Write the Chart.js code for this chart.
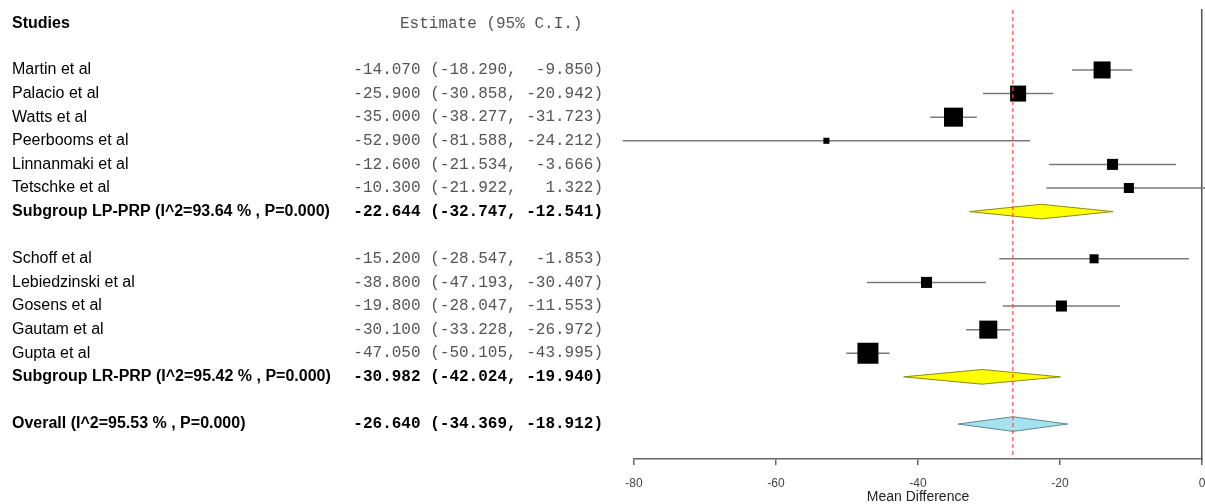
<!DOCTYPE html>
<html>
<head>
<meta charset="utf-8">
<script src="https://cdn.jsdelivr.net/npm/chart.js@4.4.1/dist/chart.umd.min.js"></script>
<style>
  html, body { margin: 0; padding: 0; background: #fff; }
</style>
</head>
<body>
<canvas id="forest" width="1205" height="504"></canvas>
<script>
// ---- data ----
const studies = ['Martin et al', 'Palacio et al', 'Watts et al', 'Peerbooms et al', 'Linnanmaki et al', 'Tetschke et al',
                 'Schoff et al', 'Lebiedzinski et al', 'Gosens et al', 'Gautam et al', 'Gupta et al'];
const studyGroup = ['LP-PRP', 'LP-PRP', 'LP-PRP', 'LP-PRP', 'LP-PRP', 'LP-PRP',
                    'LR-PRP', 'LR-PRP', 'LR-PRP', 'LR-PRP', 'LR-PRP'];
const estimate = [-14.070, -25.900, -35.000, -52.900, -12.600, -10.300, -15.200, -38.800, -19.800, -30.100, -47.050];
const lower    = [-18.290, -30.858, -38.277, -81.588, -21.534, -21.922, -28.547, -47.193, -28.047, -33.228, -50.105];
const upper    = [ -9.850, -20.942, -31.723, -24.212,  -3.666,   1.322,  -1.853, -30.407, -11.553, -26.972, -43.995];
// relative study weights
const relWeight = [18.1, 16.0, 22.6, 2.3, 7.6, 6.3, 5.1, 7.6, 7.6, 20.3, 27.6];

const groups   = ['LP-PRP', 'LR-PRP'];
const groupI2  = ['93.64', '95.42'];
const groupP   = ['0.000', '0.000'];
const groupEst = [-22.644, -30.982];
const groupLo  = [-32.747, -42.024];
const groupHi  = [-12.541, -19.940];

const overallI2 = '95.53';
const overallP = '0.000';
const overallEst = -26.640;
const overallLo = -34.369;
const overallHi = -18.912;

const xTicks = [-80, -60, -40, -20, 0];

// ---- row layout ----
const rows = [];
let r = 0;
groups.forEach((g, gi) => {
    studies.forEach((s, i) => {
        if (studyGroup[i] !== g) return;
        rows.push({ label: s, est: estimate[i], lo: lower[i], hi: upper[i], kind: 'study', idx: i, row: r });
        r++;
    });
    rows.push({ label: `Subgroup ${g} (I^2=${groupI2[gi]} % , P=${groupP[gi]})`,
                est: groupEst[gi], lo: groupLo[gi], hi: groupHi[gi], kind: 'sub', row: r });
    r += 2;
});
rows.push({ label: `Overall (I^2=${overallI2} % , P=${overallP})`,
            est: overallEst, lo: overallLo, hi: overallHi, kind: 'overall', row: r });

const Y_MIN = -2.54, Y_MAX = 16.48, HEADER_ROW = -1.95, DIAMOND_H = 0.31;

const fmt = v => v.toFixed(3).padStart(7);
const boxSide = w => 4 * Math.sqrt(w);

// ---- datasets ----
const datasets = [];

rows.filter(d => d.kind === 'study').forEach(d => {
    datasets.push({
        type: 'line',
        data: [{ x: d.lo, y: d.row }, { x: d.hi, y: d.row }],
        borderColor: '#7a7a7a',
        borderWidth: 1.5,
        pointRadius: 0,
        clip: false,
        order: 3
    });
});

const studyRows = rows.filter(d => d.kind === 'study');
datasets.push({
    type: 'scatter',
    data: studyRows.map(d => ({ x: d.est, y: d.row })),
    pointStyle: 'rect',
    pointRadius: studyRows.map(d => boxSide(relWeight[d.idx]) / Math.SQRT2),
    pointHoverRadius: studyRows.map(d => boxSide(relWeight[d.idx]) / Math.SQRT2),
    backgroundColor: '#000',
    borderColor: '#000',
    borderWidth: 0,
    clip: false,
    order: 1
});

rows.filter(d => d.kind !== 'study').forEach(d => {
    const isOverall = d.kind === 'overall';
    datasets.push({
        type: 'line',
        data: [
            { x: d.lo, y: d.row },
            { x: d.est, y: d.row - DIAMOND_H },
            { x: d.hi, y: d.row },
            { x: d.est, y: d.row + DIAMOND_H },
            { x: d.lo, y: d.row }
        ],
        fill: 'shape',
        backgroundColor: isOverall ? '#a3e2ee' : '#ffff00',
        borderColor: isOverall ? '#5e8a94' : '#8a8a1a',
        borderWidth: 1,
        pointRadius: 0,
        tension: 0,
        clip: false,
        order: 2
    });
});

// dashed line at the overall estimate
datasets.push({
    type: 'line',
    data: [{ x: overallEst, y: Y_MIN }, { x: overallEst, y: Y_MAX }],
    borderColor: '#ff4a4a',
    borderWidth: 1.2,
    borderDash: [4, 3],
    pointRadius: 0,
    order: 0
});

// left-hand table text
const tablePlugin = {
    id: 'forestTable',
    afterDraw(chart) {
        const ctx = chart.ctx;
        const y = chart.scales.y;
        ctx.save();
        ctx.textBaseline = 'middle';

        ctx.textAlign = 'left';
        ctx.fillStyle = '#000';
        ctx.font = 'bold 16px "Liberation Sans", Arial, sans-serif';
        ctx.fillText('Studies', 12, y.getPixelForValue(HEADER_ROW));
        ctx.fillStyle = '#555';
        ctx.font = '16px "Liberation Mono", monospace';
        ctx.fillText('Estimate (95% C.I.)', 400, y.getPixelForValue(HEADER_ROW));

        rows.forEach(d => {
            const py = y.getPixelForValue(d.row);
            const bold = d.kind !== 'study';
            ctx.textAlign = 'left';
            ctx.fillStyle = '#000';
            ctx.font = (bold ? 'bold ' : '') + '16px "Liberation Sans", Arial, sans-serif';
            ctx.fillText(d.label, 12, py);

            ctx.textAlign = 'right';
            ctx.fillStyle = bold ? '#000' : '#555';
            ctx.font = (bold ? 'bold ' : '') + '16px "Liberation Mono", monospace';
            ctx.fillText(`${fmt(d.est)} (${fmt(d.lo)}, ${fmt(d.hi)})`, 603, py);
        });
        ctx.restore();
    }
};

new Chart(document.getElementById('forest'), {
    type: 'scatter',
    data: { datasets },
    options: {
        responsive: false,
        animation: false,
        layout: { autoPadding: false, padding: { left: 634, right: 3, top: 10, bottom: 0 } },
        plugins: {
            legend: { display: false },
            tooltip: { enabled: false }
        },
        scales: {
            x: {
                type: 'linear',
                position: 'bottom',
                min: -80,
                max: 0,
                afterBuildTicks: s => { s.ticks = xTicks.map(v => ({ value: v })); },
                afterFit: s => { s.height = 45; s.paddingLeft = 0; s.paddingRight = 0; },
                ticks: {
                    color: '#444',
                    padding: 11,
                    font: { family: '"Liberation Sans", Arial, sans-serif', size: 12 }
                },
                grid: { drawOnChartArea: false, drawTicks: true, tickLength: 6, color: '#666', lineWidth: 1.5 },
                border: { display: true, color: '#666', width: 1.5 },
                title: {
                    display: true,
                    text: 'Mean Difference',
                    color: '#222',
                    padding: 0,
                    font: { family: '"Liberation Sans", Arial, sans-serif', size: 14, lineHeight: 1 }
                }
            },
            y: {
                type: 'linear',
                position: 'right',
                reverse: true,
                min: Y_MIN,
                max: Y_MAX,
                afterFit: s => { s.width = 0; s.paddingTop = 0; s.paddingBottom = 0; },
                ticks: { display: false },
                grid: { display: false, drawTicks: false },
                border: { display: true, color: '#555', width: 1.5 }
            }
        }
    },
    plugins: [tablePlugin]
});
</script>
</body>
</html>
